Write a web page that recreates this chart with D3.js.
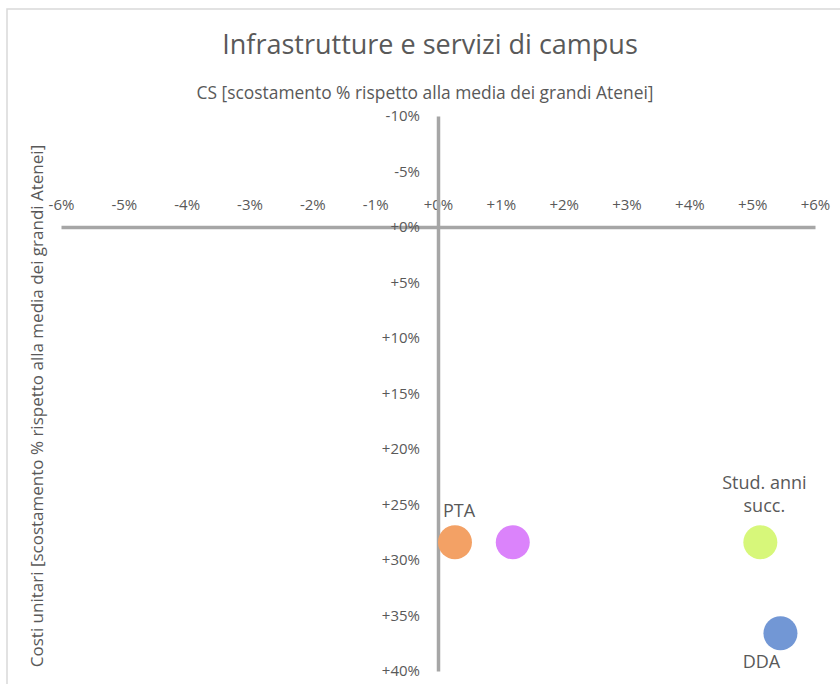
<!DOCTYPE html>
<html>
<head>
<meta charset="utf-8">
<script src="https://cdn.jsdelivr.net/npm/d3@7"></script>
<style>
  html, body { margin: 0; padding: 0; background: #fff; }
  svg { display: block; font-family: "Open Sans", "Liberation Sans", sans-serif; }
</style>
</head>
<body>
<svg id="chart" width="840" height="684"></svg>
<script>
// ---- data ----
const title = "Infrastrutture e servizi di campus";
const xTitle = "CS [scostamento % rispetto alla media dei grandi Atenei]";
const yTitle = "Costi unitari [scostamento % rispetto alla media dei grandi Atenei]";
const labels = ["PTA", "", "Stud. anni succ.", "DDA"];
const xValues = [0.27, 1.19, 5.13, 5.45];
const yValues = [28.4, 28.4, 28.4, 36.6];
const colors = ["#F3A165", "#DB83FB", "#D7F77A", "#7297D5"];
const xTicks = [-6, -5, -4, -3, -2, -1, 0, 1, 2, 3, 4, 5, 6];
const yTicks = [-10, -5, 0, 5, 10, 15, 20, 25, 30, 35, 40];

// ---- layout ----
const FONT = '"Open Sans", "Liberation Sans", sans-serif';
const svg = d3.select("#chart");
const x = d3.scaleLinear().domain([-6, 6]).range([61, 815]);
const y = d3.scaleLinear().domain([-10, 40]).range([116, 671]);
const fmt = v => (v < 0 ? "-" : "+") + Math.abs(v) + "%";
const textCol = "#595959";
const axisCol = "#A6A6A6";

// chart border
svg.append("rect").attr("x", 7).attr("y", 9).attr("width", 850).attr("height", 700)
  .attr("fill", "none").attr("stroke", "#D9D9D9").attr("stroke-width", 1.5);

// title
svg.append("text").attr("x", 430).attr("y", 54).attr("text-anchor", "middle")
  .attr("font-size", 27).attr("fill", textCol).text(title);

// x axis title (top)
svg.append("text").attr("x", 425).attr("y", 99).attr("text-anchor", "middle")
  .attr("font-size", 17.4).attr("fill", textCol).text(xTitle);

// y axis title (left, rotated)
svg.append("text").attr("transform", "translate(43,406) rotate(-90)").attr("text-anchor", "middle")
  .attr("font-size", 17).attr("fill", textCol).text(yTitle);

// x axis (line at y=0), labels above
const xAxis = d3.axisTop(x).tickValues(xTicks).tickFormat(fmt).tickSize(0).tickPadding(17);
const gx = svg.append("g").attr("transform", `translate(0,${y(0)})`).call(xAxis)
  .attr("font-family", FONT).attr("font-size", 15);
gx.select(".domain").attr("stroke", axisCol).attr("stroke-width", 3.5);
gx.selectAll("text").attr("fill", textCol);

// y axis (line at x=0), labels left
const yAxis = d3.axisLeft(y).tickValues(yTicks).tickFormat(fmt).tickSize(0).tickPadding(18);
const gy = svg.append("g").attr("transform", `translate(${x(0)},0)`).call(yAxis)
  .attr("font-family", FONT).attr("font-size", 15);
gy.select(".domain").attr("stroke", axisCol).attr("stroke-width", 3.5);
gy.selectAll("text").attr("fill", textCol);

// points
const pts = labels.map((l, i) => ({ label: l, x: xValues[i], y: yValues[i], color: colors[i] }));
svg.append("g").selectAll("circle").data(pts).join("circle")
  .attr("cx", d => x(d.x)).attr("cy", d => y(d.y)).attr("r", 17)
  .attr("fill", d => d.color);

// data labels
const lab = svg.append("g").attr("font-size", 18).attr("fill", textCol).attr("text-anchor", "middle");
// PTA above
lab.append("text").attr("x", x(xValues[0]) + 4).attr("y", y(yValues[0]) - 25).text(labels[0]);
// Stud. anni succ. above, two lines
const words = labels[2].split(" ");
lab.append("text").attr("x", x(xValues[2]) + 4).attr("y", y(yValues[2]) - 53).text(words.slice(0, 2).join(" "));
lab.append("text").attr("x", x(xValues[2]) + 4).attr("y", y(yValues[2]) - 30).text(words.slice(2).join(" "));
// DDA below
lab.append("text").attr("x", x(xValues[3]) - 19).attr("y", y(yValues[3]) + 35).text(labels[3]);
</script>
</body>
</html>
